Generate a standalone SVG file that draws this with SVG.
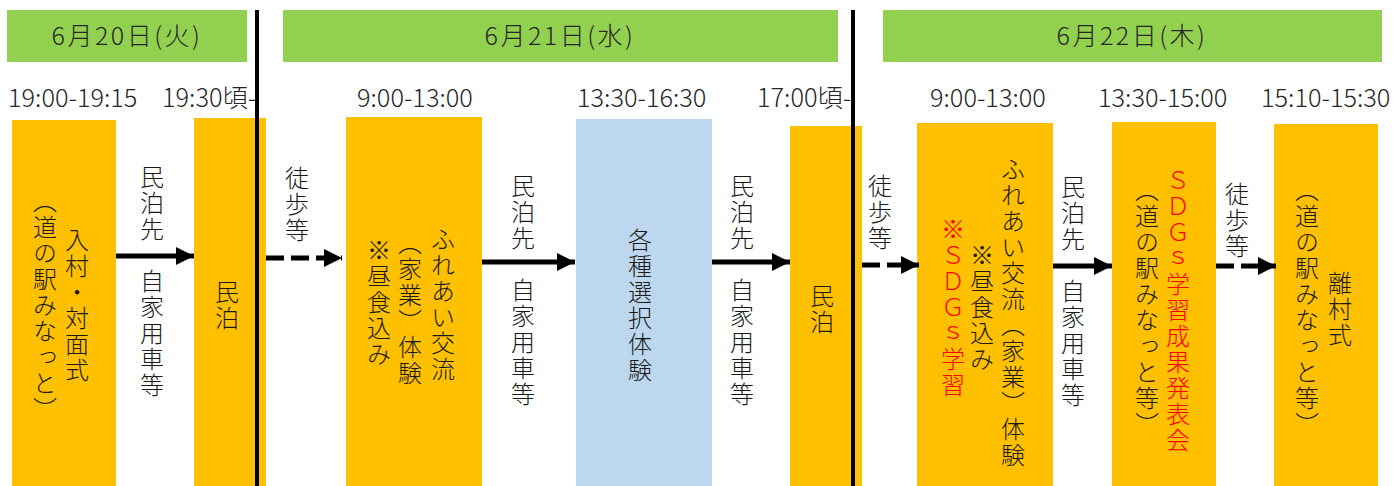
<svg xmlns="http://www.w3.org/2000/svg" width="1393" height="486" viewBox="0 0 1393 486">
<style>
.hdr{fill:#92D050}
.box{fill:#FFC000}
.blue{fill:#BDD7EE}
.t{font-family:"Noto Sans CJK JP",sans-serif;font-size:25.3px;font-weight:300;fill:#262626}
.h{font-family:"Noto Sans CJK JP",sans-serif;font-size:25px;font-weight:300;fill:#262626;letter-spacing:2.5px}
.v{font-family:"Noto Sans CJK JP",sans-serif;font-size:24px;font-weight:300;fill:#1a1a1a;writing-mode:vertical-rl;text-anchor:middle;letter-spacing:2px}
.r{fill:#FF0000}
.sh{stroke:#000;stroke-width:5;fill:none}
.dash{stroke-dasharray:18 7}
.div{stroke:#000;stroke-width:4}
</style>
<defs>
<marker id="ah" markerUnits="userSpaceOnUse" markerWidth="18" markerHeight="18" refX="18" refY="9" orient="auto">
<path d="M0,0 L18,9 L0,18 Z" fill="#000"/>
</marker>
</defs>
<g id="headers">
<rect class="hdr" x="7" y="10" width="240" height="52"/>
<text class="h" x="127" y="45" text-anchor="middle">6月20日(火)</text>
<rect class="hdr" x="283" y="10" width="555" height="52"/>
<text class="h" x="560" y="45" text-anchor="middle">6月21日(水)</text>
<rect class="hdr" x="883" y="10" width="499" height="52"/>
<text class="h" x="1132" y="45" text-anchor="middle">6月22日(木)</text>
</g>
<g id="times">
<text class="t" x="8" y="107">19:00-19:15</text>
<text class="t" x="162" y="107">19:30頃-</text>
<text class="t" x="357" y="107">9:00-13:00</text>
<text class="t" x="577" y="107">13:30-16:30</text>
<text class="t" x="757" y="107">17:00頃-</text>
<text class="t" x="930" y="107">9:00-13:00</text>
<text class="t" x="1098" y="107">13:30-15:00</text>
<text class="t" x="1261" y="107">15:10-15:30</text>
</g>
<g id="node1">
<rect class="box" x="12" y="120" width="104" height="366"/>
<text class="v" x="77" y="306">入村・対面式</text>
<text class="v" x="45" y="306">（道の駅みなっと）</text>
</g>
<g id="node2">
<rect class="box" x="194" y="118" width="72" height="368"/>
<text class="v" x="227" y="306">民泊</text>
</g>
<g id="node3">
<rect class="box" x="346" y="117" width="136" height="369"/>
<text class="v" x="443" y="305">ふれあい交流</text>
<text class="v" x="410" y="309">（家業）体験</text>
<text class="v" x="379" y="303">※昼食込み</text>
</g>
<g id="node4">
<rect class="blue" x="576" y="119" width="136" height="367"/>
<text class="v" x="640" y="306">各種選択体験</text>
</g>
<g id="node5">
<rect class="box" x="790" y="126" width="72" height="360"/>
<text class="v" x="822" y="310">民泊</text>
</g>
<g id="node6">
<rect class="box" x="917" y="123" width="136" height="363"/>
<text class="v" x="1013" y="313">ふれあい交流（家業）体験</text>
<text class="v" x="982" y="308">※昼食込み</text>
<text class="v r" x="953" y="308">※ＳＤＧｓ学習</text>
</g>
<g id="node7">
<rect class="box" x="1112" y="122" width="104" height="364"/>
<text class="v r" x="1178" y="311">ＳＤＧｓ学習成果発表会</text>
<text class="v" x="1147" y="308">（道の駅みなっと等）</text>
</g>
<g id="node8">
<rect class="box" x="1274" y="124" width="104" height="362"/>
<text class="v" x="1340" y="310">離村式</text>
<text class="v" x="1307" y="308">（道の駅みなっと等）</text>
</g>
<g id="dividers">
<line class="div" x1="257" y1="10" x2="257" y2="486"/>
<line class="div" x1="853" y1="10" x2="853" y2="486"/>
</g>
<g id="connectors">
<line class="sh" x1="116" y1="256" x2="194" y2="256" marker-end="url(#ah)"/>
<line class="sh dash" x1="266" y1="258" x2="342" y2="258" marker-end="url(#ah)"/>
<line class="sh" x1="482" y1="262" x2="575" y2="262" marker-end="url(#ah)"/>
<line class="sh" x1="712" y1="262" x2="790" y2="262" marker-end="url(#ah)"/>
<line class="sh dash" x1="862" y1="265" x2="919" y2="265" marker-end="url(#ah)"/>
<line class="sh" x1="1053" y1="266" x2="1112" y2="266" marker-end="url(#ah)"/>
<line class="sh dash" x1="1216" y1="266" x2="1276" y2="266" marker-end="url(#ah)"/>
<text class="v" x="152" y="282">民泊先　自家用車等</text>
<text class="v" x="297" y="205">徒歩等</text>
<text class="v" x="523" y="291">民泊先　自家用車等</text>
<text class="v" x="742" y="291">民泊先　自家用車等</text>
<text class="v" x="880" y="213">徒歩等</text>
<text class="v" x="1073" y="292">民泊先　自家用車等</text>
<text class="v" x="1237" y="221">徒歩等</text>
</g>
</svg>
